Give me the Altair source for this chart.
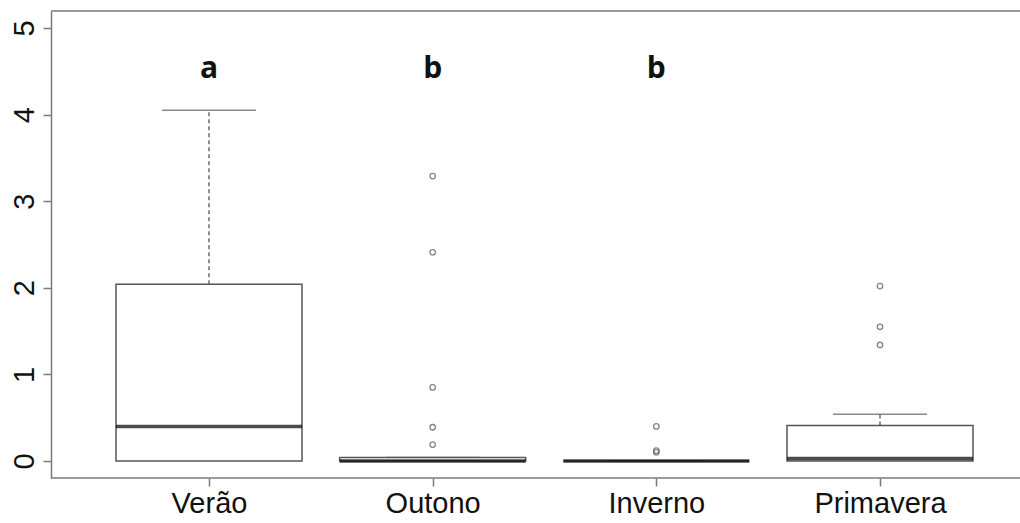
import altair as alt
import pandas as pd

seasons = ["Verão", "Outono", "Inverno", "Primavera"]
q1 = [0.0, 0.0, 0.0, 0.0]
medians = [0.40, 0.0, 0.0, 0.03]
q3 = [2.04, 0.04, 0.0, 0.41]
whisk_hi = [4.05, 0.04, 0.0, 0.54]
letters = ["a", "b", "b", ""]
letter_y = [4.42, 4.42, 4.42, 4.42]

out_season = ["Outono"] * 5 + ["Inverno"] * 3 + ["Primavera"] * 3
out_value = [3.29, 2.41, 0.85, 0.39, 0.19, 0.40, 0.12, 0.10, 2.02, 1.55, 1.34]

y_ticks = [0, 1, 2, 3, 4, 5]

W, H = 969, 467
box_df = pd.DataFrame({"season": seasons, "q1": q1, "med": medians, "q3": q3, "hi": whisk_hi,
                       "letter": letters, "ly": letter_y})
out_df = pd.DataFrame({"season": out_season, "value": out_value})

GRAY = "#555555"
AX = "#7a7a7a"

x = alt.X("season:N", sort=seasons, title=None,
          scale=alt.Scale(type="point", range=[158, 829], padding=0),
          axis=alt.Axis(labelAngle=0, labelFont="Liberation Sans", labelFontSize=29,
                        labelColor="#111111", domain=False,
                        tickColor=AX, tickWidth=1.5, tickSize=8, labelPadding=3,
                        grid=False))
yscale = alt.Scale(domain=[-0.196, 5.196], nice=False, zero=False)
yaxis = alt.Axis(values=y_ticks, format="d", labelAngle=270, labelAlign="center",
                 labelBaseline="alphabetic",
                 labelFont="Liberation Sans", labelFontSize=29, labelColor="#111111",
                 labelPadding=10, domainColor=AX, domainWidth=1.5, tickColor=AX,
                 tickWidth=1.5, tickSize=8, grid=False, title=None)

base = alt.Chart(box_df)

whisk = base.mark_rule(color=GRAY, strokeWidth=1.3, strokeDash=[4, 3]).encode(
    x=x, y=alt.Y("q3:Q", scale=yscale, axis=yaxis), y2="hi:Q")
caps = base.mark_tick(color=GRAY, size=94, thickness=1.5).encode(
    x=x, y=alt.Y("hi:Q", scale=yscale))
boxes = base.mark_bar(size=186, fill="white", stroke=GRAY, strokeWidth=1.5).encode(
    x=x, y=alt.Y("q1:Q", scale=yscale), y2="q3:Q")
med = base.mark_tick(color="#000000", size=186, thickness=3.5).encode(
    x=x, y=alt.Y("med:Q", scale=yscale))
pts = alt.Chart(out_df).mark_point(shape="circle", filled=False, size=30, color=GRAY,
                                   strokeWidth=1.3).encode(
    x=x, y=alt.Y("value:Q", scale=yscale))
txt = base.mark_text(font="Open Sans", fontWeight="bold", fontSize=30, color="#111111",
                     baseline="alphabetic", align="center").encode(
    x=x, y=alt.Y("ly:Q", scale=yscale), text="letter:N")
frame_df = pd.DataFrame({"a": [0]})
top = alt.Chart(frame_df).mark_rule(color=AX, strokeWidth=1.5).encode(
    x=alt.value(0), x2=alt.value(W), y=alt.value(0))
bottom = alt.Chart(frame_df).mark_rule(color=AX, strokeWidth=1.5).encode(
    x=alt.value(0), x2=alt.value(W), y=alt.value(H))

chart = alt.layer(whisk, caps, boxes, med, pts, txt, top, bottom).properties(
    width=W, height=H,
    autosize=alt.AutoSizeParams(type="none"),
    padding={"left": 51, "top": 11, "right": 0, "bottom": 45},
    background="white",
).configure_view(stroke=None)

chart.save("out.html", embed_options={"renderer": "svg", "actions": False})
